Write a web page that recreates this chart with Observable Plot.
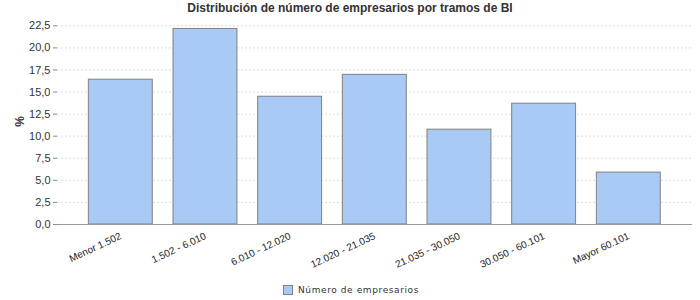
<!DOCTYPE html>
<html>
<head>
<meta charset="utf-8">
<script src="https://cdn.jsdelivr.net/npm/d3@7"></script>
<script src="https://cdn.jsdelivr.net/npm/@observablehq/plot@0.6"></script>
<style>
  body { margin: 0; background: #fff; font-family: "Liberation Sans", Arial, sans-serif; }
  #title { height: 18px; line-height: 16px; text-align: center; font-weight: bold; font-size: 12px; color: #333; }
  #legend { height: 20px; display: flex; justify-content: center; align-items: center; font-size: 9px; color: #333; letter-spacing: 0.6px; font-family: "DejaVu Sans", sans-serif; padding-left: 2px; }
  #legend .sw { width: 10px; height: 10px; background: #a8caf5; border: 1px solid #808080; margin-right: 5px; box-sizing: border-box; }
  svg g[aria-label="y-axis label"] text { font-weight: bold; font-size: 12px; }
</style>
</head>
<body>
<div id="title">Distribución de número de empresarios por tramos de BI</div>
<div id="chart"></div>
<div id="legend"><span class="sw"></span><span id="legtext"></span></div>
<script>
const categories = ["Menor 1.502", "1.502 - 6.010", "6.010 - 12.020", "12.020 - 21.035", "21.035 - 30.050", "30.050 - 60.101", "Mayor 60.101"];
const values = [16.4, 22.15, 14.47, 16.95, 10.74, 13.68, 5.88];
const yTicks = [0, 2.5, 5, 7.5, 10, 12.5, 15, 17.5, 20, 22.5];
const seriesName = "Número de empresarios";
const yLabel = "%";

const data = categories.map((c, i) => ({category: c, value: values[i]}));
const fmt = d => d.toFixed(1).replace(".", ",");

const chart = Plot.plot({
  width: 700,
  height: 262,
  marginLeft: 57,
  marginRight: 8,
  marginTop: 0,
  marginBottom: 56,
  style: {fontFamily: "Liberation Sans, Arial, sans-serif", fontSize: "11px", color: "#444"},
  x: {type: "band", domain: categories, range: [67.6, 681], padding: 0.245, round: false, label: null},
  y: {domain: [0, 23.33], label: null},
  marks: [
    Plot.gridY(yTicks, {stroke: "#dcdcdc", strokeOpacity: 1, strokeDasharray: "2,2"}),
    Plot.barY(data, {x: "category", y: "value", fill: "#a8caf5", stroke: "#808080", strokeWidth: 1}),
    Plot.ruleY([0], {stroke: "#999"}),
    Plot.axisY({ticks: yTicks, tickFormat: fmt, tickSize: 4, tickPadding: 3, stroke: "#888", fill: "#333", label: yLabel, labelAnchor: "center", labelOffset: 42, labelArrow: "none", fontSize: 11}),
    Plot.axisX({tickRotate: -25, tickSize: 0, tickPadding: 11, fill: "#222", fontSize: 10, label: null})
  ]
});
document.getElementById("chart").appendChild(chart);
document.getElementById("legtext").textContent = seriesName;
</script>
</body>
</html>
